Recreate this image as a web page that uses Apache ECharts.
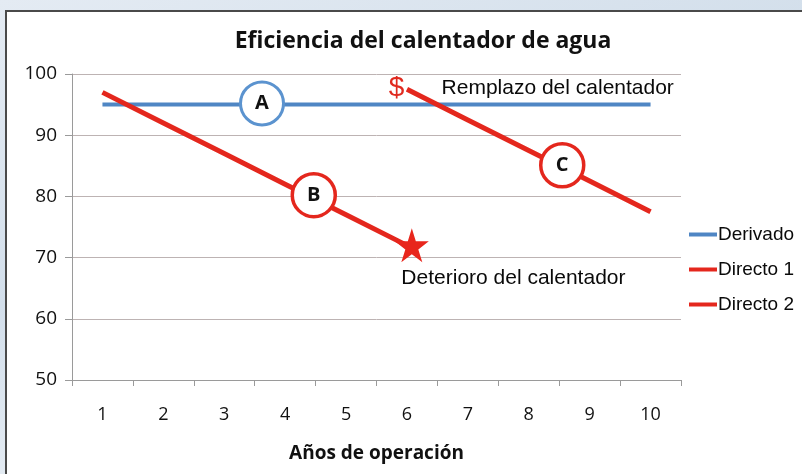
<!DOCTYPE html>
<html><head><meta charset="utf-8">
<script src="https://cdn.jsdelivr.net/npm/echarts@6/dist/echarts.min.js"></script>
<style>
html,body{margin:0;padding:0;width:802px;height:474px;overflow:hidden;}
body{background:linear-gradient(160deg,#e4ebf3 0%,#d3dfeb 40%,#e9eff5 70%,#d8e3ee 100%);position:relative;}
#frame{position:absolute;left:5px;top:10px;width:810px;height:480px;background:#fff;border:2px solid #4a4a4a;box-sizing:border-box;}
#chart{position:absolute;left:0;top:0;width:802px;height:474px;}
</style></head>
<body>
<div id="frame"></div>
<div id="chart"></div>
<script>
const titleText = 'Eficiencia del calentador de agua';
const xName = 'Años de operación';
const years = ['1','2','3','4','5','6','7','8','9','10'];
const yTicks = { min: 50, max: 100, interval: 10 };
const derivado = [95,95,95,95,95,95,95,95,95,95];
const directo1 = [97,92,87,82,77,72,null,null,null,null];
const directo2 = [null,null,null,null,null,97.5,92.5,87.5,82.5,77.5];
// annotation anchor points (x in years, y in %)
const circleA = [3.62, 95.2];
const circleB = [4.47, 80.2];
const circleC = [8.55, 85.1];
const starPt = [6.08, 72];
const dollarPt = [5.83, 97.7];
const remplazoPt = [6.56, 97.6];
const deterioroPt = [5.9, 66.6];

const BLUE = '#4f86c4';
const RED = '#e4271d';
const sans = '"Liberation Sans", Arial, sans-serif';
const bold = '"Open Sans", "Noto Sans", sans-serif';

const chart = echarts.init(document.getElementById('chart'), null, {renderer:'canvas'});
chart.setOption({
  backgroundColor: 'transparent',
  animation: false,
  title: {
    text: titleText, left: 418, top: 25, textAlign: 'center',
    textStyle: { fontFamily: bold, fontWeight: 'bold', fontSize: 23, color: '#111' }
  },
  legend: {
    orient: 'vertical', left: 684, top: 220, itemGap: 16,
    itemWidth: 28, itemHeight: 4, icon: 'rect',
    data: ['Derivado','Directo 1','Directo 2'],
    textStyle: { fontFamily: sans, fontSize: 19, lineHeight: 19, color: '#0a0a0a', padding: [0,0,0,-4] }
  },
  grid: { left: 72, right: 121, top: 74, bottom: 94 },
  xAxis: [{
    type: 'category', data: years, boundaryGap: true,
    name: xName, nameLocation: 'middle', nameGap: 64,
    nameTextStyle: { fontFamily: bold, fontWeight: 'bold', fontSize: 19, color: '#111' },
    axisLine: { lineStyle: { color: '#9a9a9a', width: 1 } },
    axisTick: { show: true, length: 6, lineStyle: { color: '#9a9a9a' } },
    axisLabel: { margin: 26, fontFamily: bold, fontSize: 18, color: '#111' },
    splitLine: { show: false }
  },{
    type: 'value', min: 0.5, max: 10.5, show: false
  }],
  yAxis: {
    type: 'value', min: yTicks.min, max: yTicks.max, interval: yTicks.interval,
    axisLine: { show: true, lineStyle: { color: '#9a9a9a', width: 1 } },
    axisTick: { show: true, length: 7, lineStyle: { color: '#9a9a9a' } },
    axisLabel: { margin: 15, fontFamily: bold, fontSize: 19, color: '#111' },
    splitLine: { show: true, lineStyle: { color: '#bdb3b3', width: 1 } }
  },
  series: [
    { name: 'Derivado', type: 'line', data: derivado, symbol: 'none', color: BLUE,
      lineStyle: { width: 4, color: BLUE }, z: 3 },
    { name: 'Directo 1', type: 'line', data: directo1, symbol: 'none', color: RED,
      lineStyle: { width: 5, color: RED }, z: 4 },
    { name: 'Directo 2', type: 'line', data: directo2, symbol: 'none', color: RED,
      lineStyle: { width: 5, color: RED }, z: 4 },
    { type: 'scatter', xAxisIndex: 1, z: 6, symbol: 'circle', symbolSize: 43,
      itemStyle: { opacity: 1 },
      data: [
        { value: circleA, itemStyle: { color: '#fff', opacity: 1, borderColor: '#5b93cf', borderWidth: 3 }, label: { formatter: 'A' } },
        { value: circleB, itemStyle: { color: '#fff', opacity: 1, borderColor: RED, borderWidth: 3.5 }, label: { formatter: 'B' } },
        { value: circleC, itemStyle: { color: '#fff', opacity: 1, borderColor: RED, borderWidth: 3.5 }, label: { formatter: 'C' } }
      ],
      label: { show: true, position: 'inside', fontFamily: bold, fontWeight: 'bold', fontSize: 20, color: '#111' },
      emphasis: { disabled: true }
    },
    { type: 'scatter', xAxisIndex: 1, z: 7,
      symbol: 'path://M50,0 L61.8,36.2 L100,36.2 L69.1,58.8 L80.9,95.1 L50,72.6 L19.1,95.1 L30.9,58.8 L0,36.2 L38.2,36.2 Z',
      symbolSize: 34, itemStyle: { color: '#e8261c', opacity: 1 }, data: [starPt], emphasis: { disabled: true } },
    { type: 'scatter', xAxisIndex: 1, z: 7, symbolSize: 1,
      itemStyle: { opacity: 1, color: 'rgba(0,0,0,0)' },
      data: [
        { value: dollarPt, label: { formatter: '$', position: 'inside', fontSize: 28, color: '#e02a1f', fontFamily: sans } },
        { value: remplazoPt, label: { formatter: 'Remplazo del calentador', position: 'right', distance: 0, fontSize: 21, color: '#0a0a0a', fontFamily: sans } },
        { value: deterioroPt, label: { formatter: 'Deterioro del calentador', position: 'right', distance: 0, fontSize: 21, color: '#0a0a0a', fontFamily: sans } }
      ],
      label: { show: true }, emphasis: { disabled: true }
    }
  ]
});
</script>
</body></html>
